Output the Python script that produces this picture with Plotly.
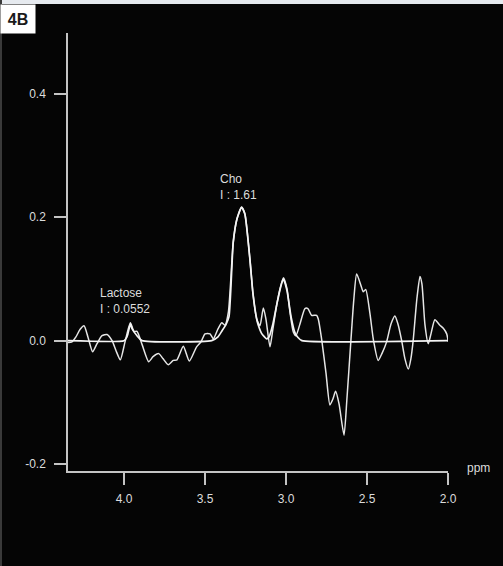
import plotly.graph_objects as go

# Spectrum (noisy measured) - ppm / intensity
spec_ppm = [4.346, 4.321, 4.297, 4.272, 4.247, 4.223, 4.194, 4.167, 4.136, 4.105,
            4.074, 4.050, 4.023, 3.994, 3.961, 3.939, 3.920, 3.889, 3.848, 3.821,
            3.786, 3.760, 3.727, 3.696, 3.673, 3.634, 3.597, 3.552, 3.525, 3.500,
            3.469, 3.449, 3.420, 3.397, 3.377, 3.356, 3.326, 3.303, 3.274, 3.254,
            3.223, 3.204, 3.181, 3.161, 3.140, 3.124, 3.099, 3.081, 3.058, 3.037,
            3.016, 2.994, 2.976, 2.955, 2.939, 2.914, 2.883, 2.865, 2.842, 2.811,
            2.801, 2.780, 2.753, 2.729, 2.710, 2.694, 2.673, 2.642, 2.624, 2.599,
            2.581, 2.564, 2.537, 2.523, 2.508, 2.482, 2.461, 2.431, 2.408, 2.379,
            2.352, 2.328, 2.309, 2.286, 2.266, 2.245, 2.229, 2.215, 2.192, 2.173,
            2.161, 2.142, 2.122, 2.105, 2.081, 2.050, 2.029, 2.008, 1.998]
spec_val = [-0.003, -0.002, 0.006, 0.018, 0.024, 0.006, -0.018, -0.005, 0.008, 0.010,
            0.000, -0.016, -0.031, -0.002, 0.029, 0.015, 0.015, -0.006, -0.034, -0.026,
            -0.021, -0.029, -0.039, -0.032, -0.031, -0.009, -0.033, -0.010, -0.002, 0.011,
            0.011, 0.003, 0.019, 0.029, 0.025, 0.046, 0.159, 0.197, 0.216, 0.205,
            0.132, 0.076, 0.035, 0.024, 0.053, 0.035, -0.010, 0.019, 0.057, 0.084,
            0.102, 0.084, 0.047, 0.014, 0.008, 0.027, 0.052, 0.052, 0.041, 0.041,
            0.035, 0.002, -0.053, -0.104, -0.094, -0.082, -0.102, -0.153, -0.094, 0.002,
            0.068, 0.108, 0.089, 0.079, 0.083, 0.044, 0.002, -0.032, -0.021, -0.002,
            0.027, 0.040, 0.027, 0.000, -0.029, -0.046, -0.029, 0.000, 0.068, 0.104,
            0.092, 0.025, -0.005, 0.011, 0.034, 0.025, 0.020, 0.011, -0.002]

# Fitted curve
fit_ppm = [4.346, 4.000, 3.982, 3.976, 3.961, 3.950, 3.920, 3.889, 3.459, 3.420,
           3.395, 3.371, 3.352, 3.326, 3.303, 3.274, 3.254, 3.223, 3.204, 3.181,
           3.171, 3.149, 3.120, 3.105, 3.081, 3.056, 3.031, 3.016, 2.994, 2.969,
           2.945, 2.926, 2.902, 1.998]
fit_val = [0.000, 0.000, 0.006, 0.011, 0.027, 0.019, 0.008, 0.000, 0.000, 0.006,
           0.016, 0.026, 0.039, 0.159, 0.197, 0.216, 0.205, 0.132, 0.076, 0.035,
           0.025, 0.011, 0.003, 0.006, 0.027, 0.060, 0.089, 0.100, 0.081, 0.039,
           0.013, 0.005, 0.000, 0.000]

x_ticks = [4.0, 3.5, 3.0, 2.5, 2.0]
x_tick_labels = ["4.0", "3.5", "3.0", "2.5", "2.0"]
y_ticks = [0.4, 0.2, 0.0, -0.2]
y_tick_labels = ["0.4", "0.2", "0.0", "-0.2"]

FONT = "Liberation Sans, Arial, sans-serif"
LINE = "#e6e6e6"
AXIS = "#c4c4c4"
TXT = "#dcdcdc"

fig = go.Figure()
fig.add_trace(go.Scatter(x=spec_ppm, y=spec_val, mode="lines",
                         line=dict(color=LINE, width=1.5, shape="spline", smoothing=0.6),
                         showlegend=False))
fig.add_trace(go.Scatter(x=fit_ppm, y=fit_val, mode="lines",
                         line=dict(color="#f4f4f4", width=1.7, shape="spline", smoothing=0.5),
                         showlegend=False))

W, H = 503, 566
L, R, T, B = 68, 448, 33, 471

def px(xp):
    return (xp - L) / (R - L)

def py(yp):
    return (B - yp) / (B - T)

fig.update_layout(
    width=W, height=H,
    margin=dict(l=L, r=W - R, t=T, b=H - B, pad=0),
    paper_bgcolor="#050505", plot_bgcolor="#050505",
    font=dict(family=FONT, size=12, color=TXT),
    xaxis=dict(range=[4.346, 2.0], tickvals=x_ticks, ticktext=x_tick_labels,
               showgrid=False, zeroline=False, showline=True, linecolor=AXIS,
               linewidth=1.5, ticks="outside", ticklen=12, tickwidth=1.5,
               tickcolor=AXIS, ticklabelstandoff=4,
               tickfont=dict(family=FONT, size=12, color=TXT)),
    yaxis=dict(range=[-0.211, 0.498], tickvals=y_ticks, ticktext=y_tick_labels,
               showgrid=False, zeroline=False, showline=True, linecolor=AXIS,
               linewidth=1.5, ticks="outside", ticklen=12, tickwidth=1.5,
               tickcolor=AXIS, ticklabelstandoff=6,
               tickfont=dict(family=FONT, size=12, color=TXT)),
    shapes=[
        dict(type="rect", xref="paper", yref="paper",
             x0=px(0), x1=px(W), y0=py(0), y1=py(4),
             fillcolor="#e6eaef", line=dict(width=0), layer="above"),
        dict(type="rect", xref="paper", yref="paper",
             x0=px(0), x1=px(2), y0=py(H), y1=py(0),
             fillcolor="#3a3a3a", line=dict(width=0), layer="above"),
    ],
    annotations=[
        dict(text="Cho<br>I : 1.61", x=3.420, y=0.277, xref="x", yref="y",
             xanchor="left", yanchor="top", align="left", showarrow=False,
             font=dict(family=FONT, size=12, color=TXT)),
        dict(text="Lactose<br>I : 0.0552", x=4.161, y=0.092, xref="x", yref="y",
             xanchor="left", yanchor="top", align="left", showarrow=False,
             font=dict(family=FONT, size=12, color=TXT)),
        dict(text="ppm", x=px(465), y=py(468), xref="paper", yref="paper",
             xanchor="left", yanchor="middle", showarrow=False,
             font=dict(family=FONT, size=12, color=TXT)),
        dict(text="<b>4B</b>", x=px(0), y=py(4), xref="paper", yref="paper",
             xanchor="left", yanchor="top", showarrow=False,
             bgcolor="#ffffff", borderpad=4, width=26, height=20,
             font=dict(family=FONT, size=16, color="#1a1a1a")),
    ],
)

fig.write_html("out.html", config={"displayModeBar": False},
               post_script="document.body.style.margin='0';document.body.style.padding='0';document.body.style.overflow='hidden';")
